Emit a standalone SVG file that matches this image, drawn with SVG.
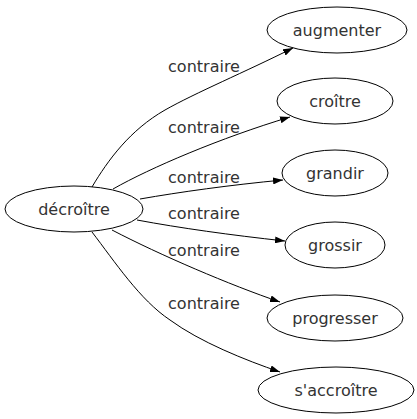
<svg xmlns="http://www.w3.org/2000/svg" width="417" height="419" viewBox="0 0 417 419">
<style>
.node ellipse{fill:none;stroke:#000;stroke-width:1}
text{font-family:"DejaVu Sans",sans-serif;font-size:16px;fill:#333;text-anchor:middle}
.edge{fill:none;stroke:#000;stroke-width:1;marker-end:url(#arr)}
</style>
<defs>
<marker id="arr" viewBox="0 0 10 7" refX="10" refY="3.5" markerWidth="10" markerHeight="7" markerUnits="userSpaceOnUse" orient="auto">
<path d="M0,0 L10,3.5 L0,7 z" fill="#000"/>
</marker>
</defs>
<rect width="417" height="419" fill="#fff"/>
<g id="connectors">
<path class="edge" d="M92,187 C108,160 130,130 165,110 C195,93 245,72 293,48"/>
<path class="edge" d="M113,189 C150,168 220,138 290,117"/>
<path class="edge" d="M140,199 C180,192 230,185 283,180"/>
<path class="edge" d="M137,220 C180,228 230,235 285,241"/>
<path class="edge" d="M112,230 C160,255 230,285 280,302"/>
<path class="edge" d="M92,232 C115,262 140,300 170,320 C200,342 245,360 280,372"/>
<text x="204" y="72">contraire</text>
<text x="204" y="133">contraire</text>
<text x="204" y="183">contraire</text>
<text x="204" y="219">contraire</text>
<text x="204" y="256">contraire</text>
<text x="204" y="309">contraire</text>
</g>
<g id="decroitre" class="node"><ellipse cx="74" cy="209" rx="69" ry="23"/><text x="74" y="215">décroître</text></g>
<g id="augmenter" class="node"><ellipse cx="337" cy="30" rx="70" ry="23"/><text x="337" y="36">augmenter</text></g>
<g id="croitre" class="node"><ellipse cx="335" cy="101" rx="58" ry="23"/><text x="335" y="107">croître</text></g>
<g id="grandir" class="node"><ellipse cx="335" cy="173" rx="53" ry="23"/><text x="335" y="179">grandir</text></g>
<g id="grossir" class="node"><ellipse cx="335" cy="245" rx="50" ry="23"/><text x="335" y="251">grossir</text></g>
<g id="progresser" class="node"><ellipse cx="335" cy="318" rx="68" ry="23"/><text x="335" y="324">progresser</text></g>
<g id="saccroitre" class="node"><ellipse cx="336" cy="390" rx="78" ry="23"/><text x="336" y="396">s'accroître</text></g>
</svg>
